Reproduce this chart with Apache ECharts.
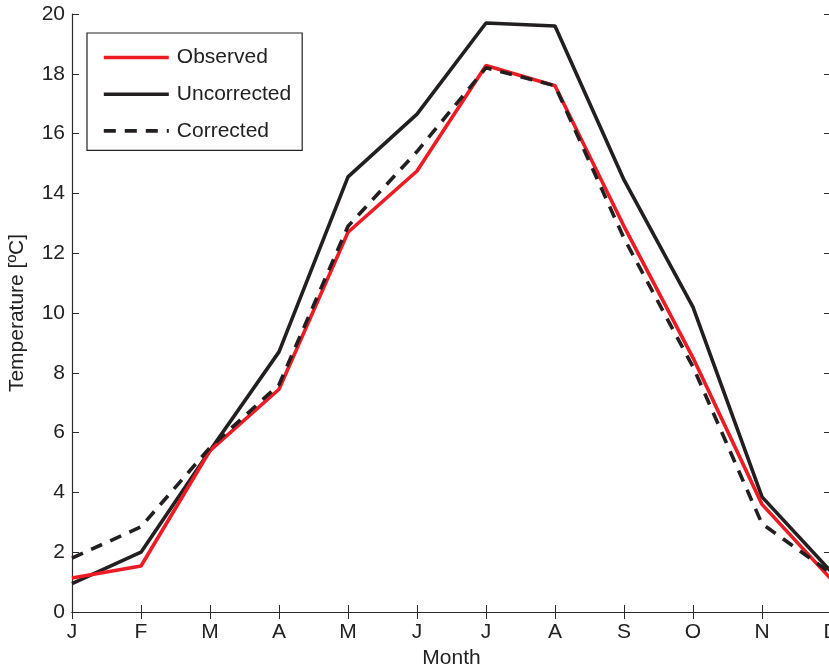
<!DOCTYPE html>
<html>
<head>
<meta charset="utf-8">
<script src="https://cdn.jsdelivr.net/npm/echarts@6/dist/echarts.min.js"></script>
<style>
html,body{margin:0;padding:0;background:#fff;}
#chart{width:829px;height:668px;}
</style>
</head>
<body>
<div id="chart"></div>
<script>
const months = ['J','F','M','A','M','J','J','A','S','O','N','D'];
const observed    = [1.14, 1.54, 5.4, 7.45, 12.7, 14.75, 18.28, 17.6, 12.9, 8.5, 3.6, 1.1];
const uncorrected = [0.95, 2.0, 5.4, 8.7, 14.55, 16.65, 19.7, 19.6, 14.45, 10.2, 3.85, 1.35];
const corrected   = [1.8, 2.85, 5.5, 7.6, 12.9, 15.4, 18.2, 17.6, 12.5, 8.2, 2.95, 1.3];
const yTicks = [0, 2, 4, 6, 8, 10, 12, 14, 16, 18, 20];

const font = '"Liberation Sans", Arial, Helvetica, sans-serif';
const axisColor = '#2b2b2b';
const textColor = '#222';
const chart = echarts.init(document.getElementById('chart'), null, {renderer: 'canvas'});

const option = {
  animation: false,
  backgroundColor: '#fff',
  textStyle: {fontFamily: font},
  grid: {left: 72, top: 14, width: 759, height: 598, containLabel: false, outerBoundsMode: 'none'},
  legend: {
    orient: 'vertical',
    left: 87, top: 33,
    padding: [14, 11, 9, 15],
    itemWidth: 65, itemHeight: 14, itemGap: 15.7,
    borderColor: '#222', borderWidth: 1.2,
    backgroundColor: '#fff',
    itemStyle: {opacity: 0},
    lineStyle: {width: 3.6},
    textStyle: {fontFamily: font, fontSize: 21, lineHeight: 21, color: textColor, padding: [0, 0, 0, 3]},
    data: ['Observed', 'Uncorrected', 'Corrected']
  },
  xAxis: [{
    type: 'category',
    data: months,
    boundaryGap: false,
    name: 'Month',
    nameLocation: 'middle',
    nameGap: 32,
    nameTextStyle: {fontFamily: font, fontSize: 21, color: textColor},
    axisLine: {show: true, lineStyle: {color: axisColor, width: 1.2}},
    axisTick: {show: true, inside: true, length: 7, lineStyle: {color: axisColor}},
    axisLabel: {fontFamily: font, fontSize: 21, color: textColor, margin: 10, showMaxLabel: true},
    splitLine: {show: false}
  }, {
    type: 'category',
    data: months,
    boundaryGap: false,
    position: 'top',
    axisLine: {show: true, lineStyle: {color: axisColor, width: 1.2}},
    axisTick: {show: true, inside: true, length: 7, lineStyle: {color: axisColor}},
    axisLabel: {show: false},
    splitLine: {show: false}
  }],
  yAxis: [{
    type: 'value',
    min: 0, max: 20, interval: 2,
    name: 'Temperature [ºC]',
    nameLocation: 'middle',
    nameGap: 44,
    nameTextStyle: {fontFamily: font, fontSize: 21, color: textColor},
    axisLine: {show: true, lineStyle: {color: axisColor, width: 1.2}},
    axisTick: {show: true, inside: true, length: 7, lineStyle: {color: axisColor}},
    axisLabel: {fontFamily: font, fontSize: 21, color: textColor, margin: 7,
      formatter: v => yTicks.includes(v) ? String(v) : ''},
    splitLine: {show: false}
  }, {
    type: 'value',
    min: 0, max: 20, interval: 2,
    position: 'right',
    axisLine: {show: true, lineStyle: {color: axisColor, width: 1.2}},
    axisTick: {show: true, inside: true, length: 7, lineStyle: {color: axisColor}},
    axisLabel: {show: false},
    splitLine: {show: false}
  }],
  series: [{
    name: 'Uncorrected', type: 'line', data: uncorrected, symbol: 'none',
    lineStyle: {color: '#231f20', width: 3.6}, itemStyle: {color: '#231f20'}, z: 3
  }, {
    name: 'Observed', type: 'line', data: observed, symbol: 'none',
    lineStyle: {color: '#ed1c24', width: 3.6}, itemStyle: {color: '#ed1c24'}, z: 4
  }, {
    name: 'Corrected', type: 'line', data: corrected, symbol: 'none',
    lineStyle: {color: '#231f20', width: 3.6, type: [12, 9]}, itemStyle: {color: '#231f20'}, z: 5
  }]
};
chart.setOption(option);
</script>
</body>
</html>
